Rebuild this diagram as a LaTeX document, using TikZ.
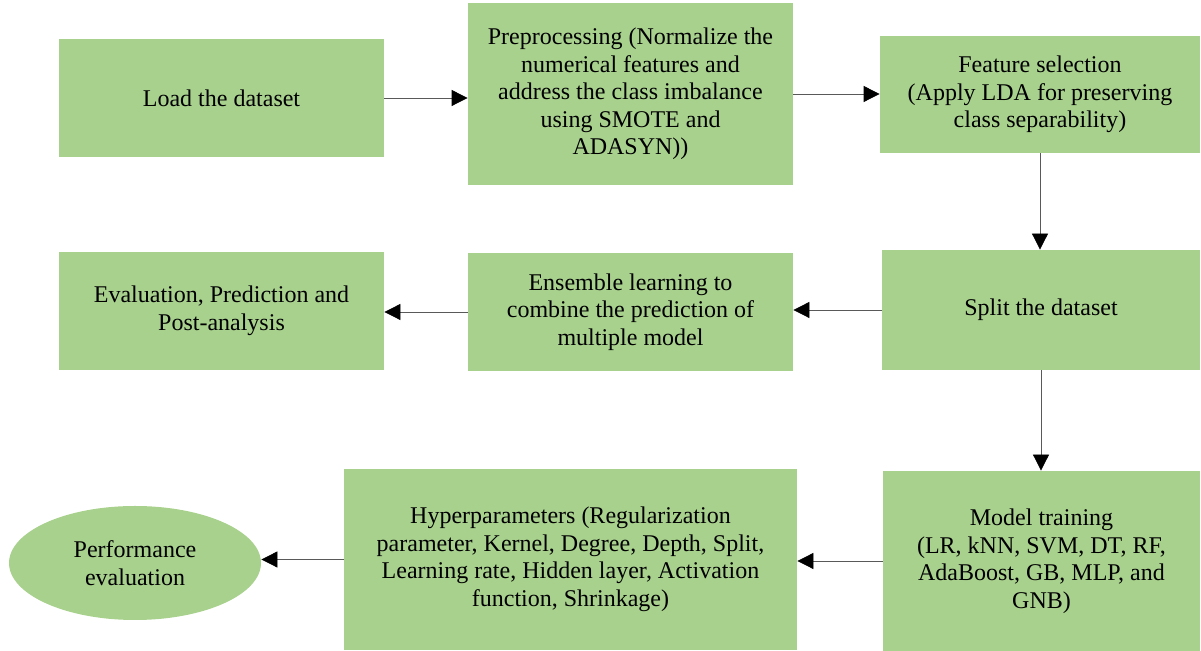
\documentclass[tikz,border=0pt]{standalone}
\usepackage{fontspec}
\setmainfont{Liberation Serif}
\usetikzlibrary{arrows.meta}
\usetikzlibrary{shapes.geometric}
\definecolor{boxgreen}{HTML}{A9D18E}

\begin{document}
\begin{tikzpicture}[x=0.5pt,y=0.5pt]
  \tikzset{stepbox/.style 2 args={minimum width=#1,minimum height=#2,fill=boxgreen,align=center,inner sep=2pt,font=\fontsize{12}{13.75}\selectfont},
           flow/.style={-{Triangle[length=8pt,width=8pt,color=black]},draw=gray!70!black,thin}}
  \useasboundingbox (0,0) rectangle (1201,-651);

  \node[stepbox={162.5pt}{59pt}] (load) at (221.5,-98) {Load the dataset};
  \node[stepbox={162.5pt}{91pt}] (prep) at (630.5,-94) {Preprocessing (Normalize the\\numerical features and\\address the class imbalance\\using SMOTE and\\ADASYN))};
  \node[stepbox={160pt}{58.5pt}] (featsel) at (1040,-94.5) {Feature selection\\(Apply LDA for preserving\\class separability)};
  \node[stepbox={159pt}{60pt}] (split) at (1041,-310) {Split the dataset};
  \node[stepbox={162.5pt}{59pt}] (ensemble) at (630.5,-312) {Ensemble learning to\\combine the prediction of\\multiple model};
  \node[stepbox={162.5pt}{59pt}] (evalpred) at (221.5,-311) {Evaluation, Prediction and\\Post-analysis};
  \node[stepbox={158.5pt}{90pt}] (training) at (1041.5,-561) {Model training\\(LR, kNN, SVM, DT, RF,\\AdaBoost, GB, MLP, and\\GNB)};
  \node[stepbox={226.5pt}{90.5pt}] (hyper) at (570.5,-559.5) {Hyperparameters (Regularization\\parameter, Kernel, Degree, Depth, Split,\\Learning rate, Hidden layer, Activation\\function, Shrinkage)};
  \node[stepbox={126pt}{57pt},ellipse,inner sep=0pt] (perf) at (135,-563) {Performance\\evaluation};

  % flow of the steps
  \draw[flow] (load.east) -- (load.east -| prep.west);
  \draw[flow] (prep.east) -- (prep.east -| featsel.west);
  \draw[flow] (featsel.south) -- (featsel.south |- split.north);
  \draw[flow] (split.west) -- (split.west -| ensemble.east);
  \draw[flow] (ensemble.west) -- (ensemble.west -| evalpred.east);
  \draw[flow] (split.south) -- (split.south |- training.north);
  \draw[flow] (training.west) -- (training.west -| hyper.east);
  \draw[flow] (hyper.west) -- (hyper.west -| perf.east);
\end{tikzpicture}
\end{document}
